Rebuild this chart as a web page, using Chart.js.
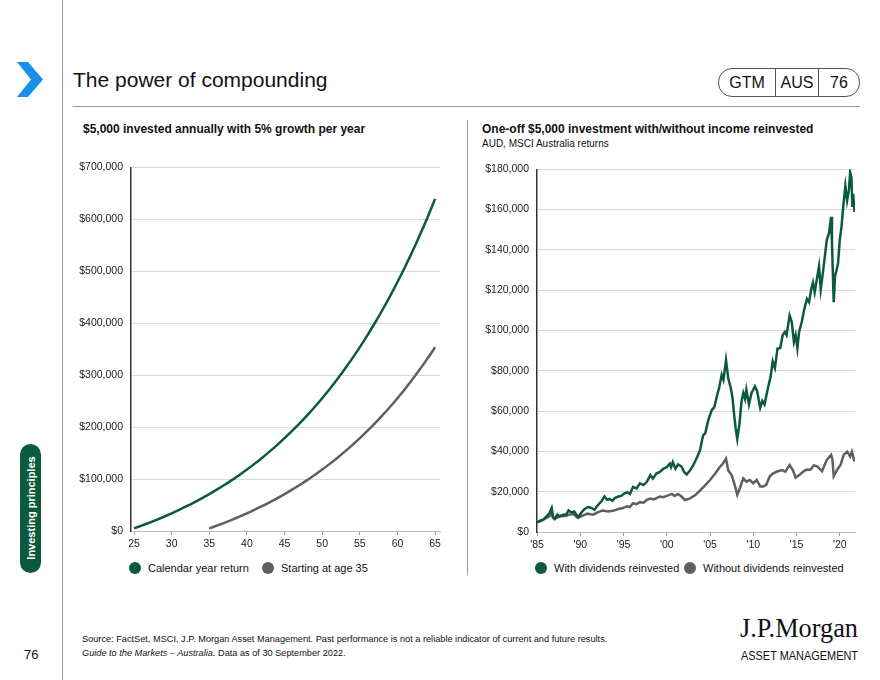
<!DOCTYPE html>
<html>
<head>
<meta charset="utf-8">
<script src="https://cdn.jsdelivr.net/npm/chart.js@4.4.1/dist/chart.umd.min.js"></script>
<style>
  body { margin:0; width:880px; height:680px; position:relative; background:#fff; overflow:hidden;
         font-family:"Liberation Sans", Arial, sans-serif; color:#111; }
  .abs { position:absolute; white-space:nowrap; }
  .title { left:73px; top:68px; font-size:21px; }
  .rule { left:73px; top:106px; width:787px; height:0; border-top:1.5px solid #999; }
  .vline { left:62px; top:0; width:0; height:680px; border-left:1px solid #999; }
  .divider { left:467px; top:120px; width:0; height:455px; border-left:1px solid #999; }
  .pill { left:718px; top:68px; width:140px; height:27px; border:1px solid #555; border-radius:14px; display:flex; font-size:16px; }
  .pill div { display:flex; align-items:center; justify-content:center; }
  .ctitle { font-size:12px; font-weight:bold; }
  .sub { font-size:10px; }
  .legend { font-size:11px; display:flex; align-items:center; }
  .dot { width:12px; height:12px; border-radius:50%; display:inline-block; margin-right:7px; }
  .tab { left:20px; top:444px; width:21px; height:129px; border-radius:11px; background:#0b5a3e; }
  .tabtxt { left:30.5px; top:508px; transform:translate(-50%,-50%) rotate(-90deg); color:#fff; font-size:11px; font-weight:bold; }
  .foot { left:82px; font-size:9.2px; color:#111; }
</style>
</head>
<body>
<div class="abs vline"></div>
<svg class="abs" style="left:0;top:0" width="60" height="110">
  <polygon points="17,62 28,62 43,79.5 28,97 17,97 31,79.5" fill="#1a8fe8"/>
</svg>
<div class="abs title">The power of compounding</div>
<div class="abs pill">
  <div style="width:56px;border-right:1px solid #555">GTM</div>
  <div style="width:42px;border-right:1px solid #555">AUS</div>
  <div style="flex:1">76</div>
</div>
<div class="abs rule"></div>

<div class="abs ctitle" style="left:83px;top:122px">$5,000 invested annually with 5% growth per year</div>
<div class="abs ctitle" style="left:482px;top:122px">One-off $5,000 investment with/without income reinvested</div>
<div class="abs sub" style="left:482px;top:138px">AUD, MSCI Australia returns</div>
<div class="abs divider"></div>

<canvas id="leftChart" class="abs" style="left:70px;top:153px" width="375" height="400"></canvas>
<canvas id="rightChart" class="abs" style="left:470px;top:155px" width="392" height="400"></canvas>

<div class="abs legend" style="left:129px;top:562px"><span class="dot" style="background:#0b5a3e"></span>Calendar year return</div>
<div class="abs legend" style="left:262px;top:562px"><span class="dot" style="background:#5f5f63"></span>Starting at age 35</div>
<div class="abs legend" style="left:535px;top:562px"><span class="dot" style="background:#0b5a3e"></span>With dividends reinvested</div>
<div class="abs legend" style="left:684px;top:562px"><span class="dot" style="background:#5f5f63"></span>Without dividends reinvested</div>

<div class="abs tab"></div>
<div class="abs tabtxt">Investing principles</div>
<div class="abs" style="left:24px;top:647px;font-size:13px">76</div>

<div class="abs foot" style="top:634px">Source: FactSet, MSCI, J.P. Morgan Asset Management. Past performance is not a reliable indicator of current and future results.</div>
<div class="abs foot" style="top:648px"><i>Guide to the Markets – Australia.</i> Data as of 30 September 2022.</div>

<svg class="abs" style="left:730px;top:608px" width="140" height="60">
  <text x="10" y="29" font-family="Liberation Serif, serif" font-size="28" textLength="118" lengthAdjust="spacingAndGlyphs" fill="#111">J.P.Morgan</text>
  <text x="11" y="52" font-family="Liberation Sans Narrow, Liberation Sans, sans-serif" font-size="13" textLength="117" lengthAdjust="spacingAndGlyphs" fill="#111">ASSET MANAGEMENT</text>
</svg>

<script>
const GREEN = "#0b5a3e";
const GREY = "#5f5f63";

// Left chart: $5,000 invested annually at 5%
const ages = [25,26,27,28,29,30,31,32,33,34,35,36,37,38,39,40,41,42,43,44,45,
              46,47,48,49,50,51,52,53,54,55,56,57,58,59,60,61,62,63,64,65];
const calendarYearReturn = [5000,10250,15760,21550,27630,34010,40710,47750,55130,62890,
  71030,79590,88570,97990,107890,118290,129200,140660,152700,165330,178600,192530,
  207150,222510,238640,255570,273350,292010,311610,332190,353800,376490,400320,
  425340,451600,479180,508140,538550,570480,604000,639200];
const agesFrom35 = [35,36,37,38,39,40,41,42,43,44,45,46,47,48,49,50,
                    51,52,53,54,55,56,57,58,59,60,61,62,63,64,65];
const startingAt35 = [5000,10250,15760,21550,27630,34010,40710,47750,55130,62890,
  71030,79590,88570,97990,107890,118290,129200,140660,152700,165330,178600,192530,
  207150,222510,238640,255570,273350,292010,311610,332190,353800];
const leftXTicks = [25,30,35,40,45,50,55,60,65];

// Right chart: one-off $5,000 (values in $ thousands)
const withDivYears = [1985.0,1985.35,1985.7,1986.1,1986.45,1986.7,1986.85,1987.05,1987.35,1987.6,
  1988.0,1988.35,1988.65,1988.95,1989.3,1989.55,1989.8,1990.1,1990.5,1990.9,1991.3,1991.65,1991.9,
  1992.25,1992.5,1992.8,1993.1,1993.4,1993.7,1994.0,1994.4,1994.75,1995.1,1995.45,1995.75,1996.1,
  1996.5,1996.9,1997.3,1997.7,1998.1,1998.4,1998.8,1999.2,1999.6,2000.0,2000.35,2000.5,2000.7,
  2001.0,2001.3,2001.7,2002.0,2002.3,2002.7,2003.05,2003.5,2003.84,2004.2,2004.45,2004.8,2005.2,
  2005.5,2005.8,2006.05,2006.35,2006.55,2006.85,2007.1,2007.4,2007.6,2007.8,2007.95,2008.15,
  2008.4,2008.65,2008.85,2009.05,2009.2,2009.5,2009.8,2010.2,2010.45,2010.8,2011.05,2011.3,
  2011.7,2012.0,2012.25,2012.5,2012.8,2013.1,2013.4,2013.65,2013.85,2014.2,2014.45,2014.7,
  2014.9,2015.1,2015.3,2015.6,2015.9,2016.2,2016.45,2016.7,2016.9,2017.1,2017.35,2017.6,2017.8,
  2018.05,2018.5,2018.75,2019.0,2019.1,2019.3,2019.45,2019.65,2019.8,2020.0,2020.2,2020.4,
  2020.65,2020.85,2021.05,2021.2,2021.35,2021.45,2021.55,2021.7];
const withDivValues = [4.8,5.6,6.1,7.8,9.4,11.9,7.8,6.5,8.6,7.8,
  8.6,8.6,10.7,9.7,10.2,8.6,7.4,9.4,11.4,12.4,11.9,11.0,12.7,
  14.3,15.5,17.6,16.0,16.4,15.5,16.8,17.6,17.9,19.2,19.7,18.9,22.4,
  21.6,24.1,23.3,24.9,28.2,26.5,29.0,29.8,31.4,32.2,33.9,32.2,34.7,
  31.4,33.5,32.6,29.8,28.6,30.6,33.0,37.1,40.5,48.0,49.0,55.5,60.5,
  62.0,67.5,71.5,78.0,75.5,85.3,76.4,71.5,66.6,57.6,52.0,46.2,
  53.5,65.0,69.0,66.0,70.7,63.3,69.0,72.3,69.8,61.7,65.0,63.3,
  71.5,77.0,84.6,81.4,91.0,91.2,97.7,99.3,97.7,107.5,104.2,94.4,
  97.7,91.2,99.3,104.2,110.7,115.6,114.0,120.5,123.8,118.9,125.4,131.9,120.5,
  128.7,145.0,148.2,156.4,143.3,114.0,127.0,130.3,133.5,145.0,151.5,161.3,
  171.8,164.5,169.4,178.4,176.0,161.3,167.8,158.8];

const withoutDivYears = [1985.0,1985.5,1986.0,1986.45,1986.7,1986.85,1987.05,1987.5,1987.8,
  1988.3,1988.7,1989.2,1989.7,1990.3,1990.8,1991.5,1992.0,1992.6,1993.2,1993.8,1994.4,1994.95,
  1995.4,1995.75,1996.1,1996.5,1996.9,1997.3,1997.7,1998.1,1998.5,1999.2,1999.6,2000.0,2000.6,
  2000.9,2001.3,2001.7,2002.1,2002.7,2003.3,2003.84,2004.4,2005.0,2005.6,2006.15,2006.5,2006.85,
  2007.1,2007.5,2007.9,2008.15,2008.45,2008.85,2009.2,2009.6,2010.0,2010.4,2010.8,2011.15,
  2011.5,2011.9,2012.3,2012.7,2013.3,2013.7,2014.2,2014.6,2014.9,2015.4,2015.8,2016.2,2016.6,
  2017.0,2017.4,2017.95,2018.5,2019.0,2019.15,2019.3,2019.7,2020.1,2020.45,2020.85,2021.2,
  2021.4,2021.7];
const withoutDivValues = [4.8,5.5,6.8,7.8,9.4,7.0,6.5,7.5,7.8,
  7.9,8.6,8.9,7.0,8.1,9.1,8.6,9.7,10.7,10.2,10.5,11.4,11.9,
  12.8,12.4,14.3,13.8,14.8,14.5,15.9,16.6,16.2,17.6,17.3,17.9,18.9,
  17.9,18.9,17.6,15.9,16.7,18.4,20.5,23.0,25.8,29.0,32.4,34.0,36.4,
  30.7,28.3,22.6,18.5,21.7,26.6,25.0,25.8,24.2,25.8,22.6,22.6,
  23.4,27.5,29.1,29.9,30.7,29.9,33.2,30.5,27.0,28.5,30.1,31.0,30.9,
  33.0,32.6,30.1,35.8,38.3,36.0,27.7,30.9,33.4,38.3,39.9,37.5,
  39.9,35.0];
const rightXTicks = [1985,1990,1995,2000,2005,2010,2015,2020];

Chart.defaults.font.family = '"Liberation Sans", Arial, sans-serif';
Chart.defaults.color = "#222";

const dollars = v => "$" + Number(v).toLocaleString("en-US");

function lineSet(label, xs, ys, color, scale) {
  return {
    label,
    data: xs.map((x, i) => ({ x, y: ys[i] * scale })),
    borderColor: color,
    backgroundColor: color,
    borderWidth: 2.5,
    pointRadius: 0,
    tension: 0
  };
}

function baseOptions(xMin, xMax, xTicks, yMax, yStep, yWidth, xHeight, pad) {
  return {
    responsive: false,
    animation: false,
    layout: { padding: pad },
    plugins: { legend: { display: false }, tooltip: { enabled: false } },
    scales: {
      x: {
        type: "linear", min: xMin, max: xMax,
        afterBuildTicks: s => { s.ticks = xTicks.map(v => ({ value: v })); },
        afterFit: s => { s.height = xHeight; },
        grid: { drawOnChartArea: false, tickLength: 4, color: "#999" },
        border: { color: "#bbb" },
        ticks: { padding: 3, font: { size: 10.5 }, maxRotation: 0 }
      },
      y: {
        min: 0, max: yMax,
        afterFit: s => { s.width = yWidth; },
        grid: { color: "#d9d9d9", drawTicks: false },
        border: { color: "#333", width: 1.5 },
        ticks: { stepSize: yStep, padding: 8, font: { size: 10.5 }, callback: dollars }
      }
    }
  };
}

const leftOpts = baseOptions(24.6, 65.65, leftXTicks, 700000, 100000, 61, 22, { top: 10, right: 5 });
leftOpts.scales.x.ticks.callback = v => String(v);
new Chart(document.getElementById("leftChart"), {
  type: "line",
  data: {
    datasets: [
      { ...lineSet("Calendar year return", ages, calendarYearReturn, GREEN, 1), tension: 0.3 },
      { ...lineSet("Starting at age 35", agesFrom35, startingAt35, GREY, 1), tension: 0.3 }
    ]
  },
  options: leftOpts
});

const rightOpts = baseOptions(1985, 2021.76, rightXTicks, 180000, 20000, 67, 23, { top: 10, right: 7 });
rightOpts.scales.x.ticks.callback = v => "'" + String(v).slice(2);
new Chart(document.getElementById("rightChart"), {
  type: "line",
  data: {
    datasets: [
      lineSet("With dividends reinvested", withDivYears, withDivValues, GREEN, 1000),
      lineSet("Without dividends reinvested", withoutDivYears, withoutDivValues, GREY, 1000)
    ]
  },
  options: rightOpts
});
</script>
</body>
</html>
